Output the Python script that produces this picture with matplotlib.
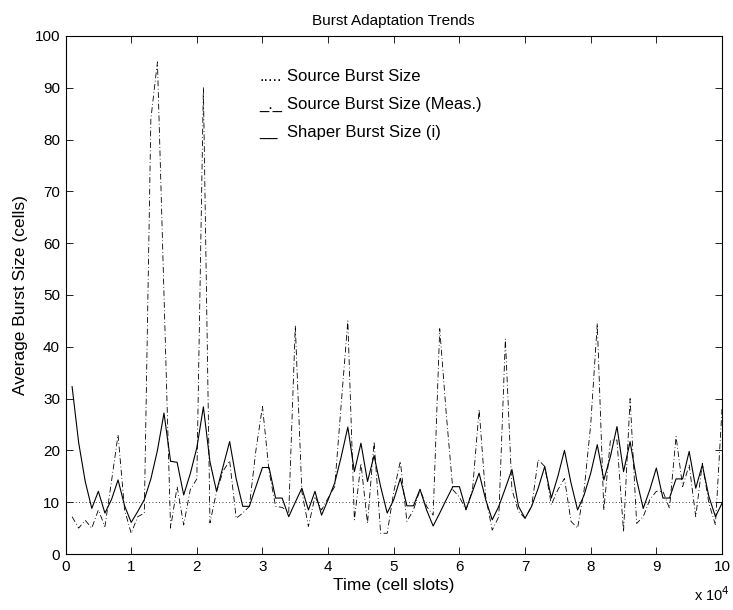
import numpy as np
import matplotlib

matplotlib.use("Agg")
import matplotlib.pyplot as plt

plt.rcParams["font.family"] = ["Liberation Sans", "DejaVu Sans"]

# time axis in units of 1e4 cell slots
time = np.round(np.arange(1, 101) * 0.1, 1)

source_size = [10.0] * 100

source_meas = [
    7.2, 5.0, 6.5, 5.0, 8.5, 5.3, 14.0, 23.0, 8.5, 4.0,
    7.2, 7.9, 84.0, 95.0, 50.0, 5.0, 13.0, 5.6, 12.4, 14.5,
    90.0, 6.0, 12.0, 16.0, 18.0, 6.9, 7.9, 9.2, 20.0, 28.5,
    16.0, 9.2, 9.0, 8.0, 44.0, 12.0, 5.3, 11.1, 8.5, 10.8,
    13.0, 29.0, 45.0, 6.6, 17.5, 5.9, 21.7, 4.0, 4.0, 12.0,
    17.9, 6.3, 8.5, 12.4, 9.2, 7.5, 43.5, 27.0, 12.4, 11.0,
    8.5, 12.4, 27.9, 11.1, 4.6, 7.2, 41.5, 12.4, 8.2, 6.9,
    9.2, 18.2, 16.9, 9.5, 12.4, 14.6, 6.3, 5.0, 12.4, 25.0,
    44.5, 8.5, 22.0, 22.0, 4.3, 30.0, 5.9, 7.2, 10.5, 12.1,
    12.1, 8.8, 22.7, 13.0, 17.2, 7.2, 17.5, 9.8, 5.6, 28.0,
]

shaper_size = [
    32.3, 21.5, 14.0, 8.8, 12.1, 7.9, 10.5, 14.3, 9.3, 6.1,
    8.2, 10.5, 14.5, 20.0, 27.2, 17.9, 17.7, 11.4, 15.5, 20.5,
    28.4, 17.8, 12.1, 16.9, 21.7, 14.5, 9.2, 9.2, 13.0, 16.7,
    16.7, 10.8, 10.8, 7.2, 10.0, 12.7, 8.5, 12.1, 7.5, 10.5,
    13.7, 18.8, 24.5, 15.9, 21.4, 14.0, 19.0, 13.0, 7.9, 10.5,
    14.6, 9.3, 9.3, 12.5, 8.5, 5.4, 7.9, 10.5, 13.0, 13.0,
    8.6, 12.1, 15.6, 10.5, 6.6, 9.2, 12.7, 16.3, 9.2, 6.9,
    9.2, 12.7, 16.9, 10.8, 15.0, 20.0, 13.7, 8.5, 11.4, 15.6,
    21.1, 14.3, 18.8, 24.6, 15.9, 21.7, 14.3, 8.8, 12.4, 16.6,
    10.8, 10.8, 14.5, 14.5, 19.8, 12.7, 17.2, 11.1, 7.2, 9.8,
]

legend_marks = [".....", "_._", "__"]
legend_labels = [
    "Source Burst Size",
    "Source Burst Size (Meas.)",
    "Shaper Burst Size (i)",
]

fig = plt.figure(figsize=(7.33, 6.10), dpi=100)
ax = fig.add_axes([0.0894, 0.0918, 0.8956, 0.8492])

ax.plot(time, source_size, color="black", lw=0.6, linestyle=(0, (1, 3)))
ax.plot(time, source_meas, color="black", lw=0.6, linestyle=(0, (7, 3, 1, 3)))
ax.plot(time, shaper_size, color="black", lw=0.8, linestyle="-")

ax.set_xlim(0, 10)
ax.set_ylim(0, 100)
ax.set_xticks(np.arange(0, 11, 1))
ax.set_yticks(np.arange(0, 101, 10))
ax.tick_params(direction="in", length=5, width=0.6, top=True, right=True,
               labelsize=11, pad=4)
for spine in ax.spines.values():
    spine.set_linewidth(0.8)

# MATLAB-style text legend: marker column and label column
for i, (mark, label) in enumerate(zip(legend_marks, legend_labels)):
    y = 0.921 - i * 0.054
    ax.text(0.295, y, mark, transform=ax.transAxes,
            fontsize=12, va="center", ha="left")
    ax.text(0.338, y, label, transform=ax.transAxes,
            fontsize=12, va="center", ha="left")

ax.set_title("Burst Adaptation Trends", fontsize=11, pad=8)
ax.set_xlabel("Time (cell slots)", fontsize=12.5, labelpad=3)
ax.set_ylabel("Average Burst Size (cells)", fontsize=12.5, labelpad=5)
fig.text(0.996, 0.010, r"x 10$^{4}$", fontsize=10.5, ha="right", va="bottom")

fig.savefig("out.png", dpi=100)
